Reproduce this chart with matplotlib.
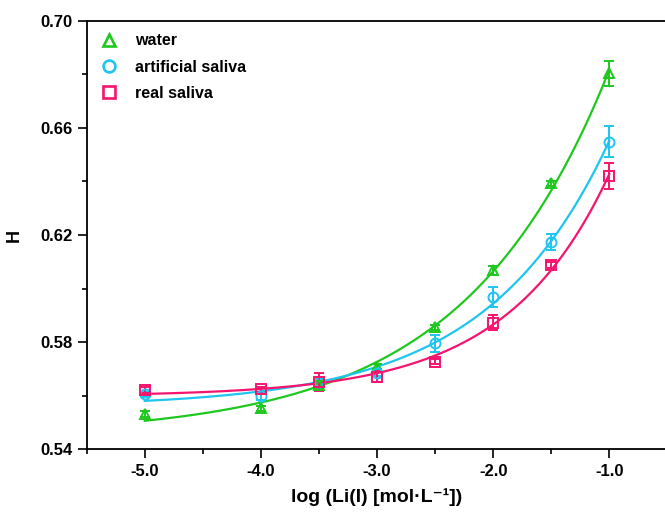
import matplotlib

matplotlib.use("Agg")

import matplotlib.pyplot as plt
import numpy as np
from matplotlib.lines import Line2D
from matplotlib.ticker import MultipleLocator

plt.rcParams["font.family"] = ["Liberation Sans", "DejaVu Sans"]
plt.rcParams["font.weight"] = "bold"

# log concentration of Li(I)
log_c = np.array([-5.0, -4.0, -3.5, -3.0, -2.5, -2.0, -1.5, -1.0])

water = np.array([0.5532, 0.5553, 0.5640, 0.5708, 0.5855, 0.6069, 0.6393, 0.6803])
water_err = np.array([0.001, 0.001, 0.0015, 0.001, 0.001, 0.0017, 0.001, 0.0047])

art_saliva = np.array([0.5605, 0.5599, 0.5652, 0.5684, 0.5796, 0.5970, 0.6175, 0.6548])
art_err = np.array([0.001, 0.0015, 0.001, 0.001, 0.0031, 0.0037, 0.003, 0.0058])

real_saliva = np.array([0.5621, 0.5624, 0.5652, 0.5671, 0.5727, 0.5873, 0.6088, 0.6420])
real_err = np.array([0.001, 0.001, 0.0034, 0.002, 0.001, 0.0029, 0.001, 0.005])

labels = ["water", "artificial saliva", "real saliva"]
colors = ["#1ec81e", "#1ec5f0", "#f5146e"]
markers = ["^", "o", "s"]

x_ticks = [-5.0, -4.0, -3.0, -2.0, -1.0]
y_ticks = [0.54, 0.58, 0.62, 0.66, 0.70]


def exp_fit(x, y):
    # y = y0 + A * exp(k * x), k scanned, y0 and A by least squares
    best = None
    for k in np.linspace(0.2, 4.0, 761):
        basis = np.column_stack([np.ones_like(x), np.exp(k * x)])
        coef = np.linalg.lstsq(basis, y, rcond=None)[0]
        err = np.sum((basis @ coef - y) ** 2)
        if best is None or err < best[0]:
            best = (err, k, coef)
    return best[1], best[2]


fig = plt.figure(figsize=(6.65, 5.14), dpi=100)
ax = fig.add_axes([0.1304, 0.1259, 0.8732, 0.8338])

xs = np.linspace(-5.0, -1.0, 300)
series = [(water, water_err), (art_saliva, art_err), (real_saliva, real_err)]
for (vals, err), col, mk in zip(series, colors, markers):
    k, coef = exp_fit(log_c, vals)
    ax.plot(xs, coef[0] + coef[1] * np.exp(k * xs), color=col, lw=1.6, zorder=2)
    ax.errorbar(log_c, vals, yerr=err, fmt=mk, color=col, mfc="none",
                mec=col, mew=1.4, ms=7.2, elinewidth=1.4, capsize=3.5,
                capthick=1.4, zorder=3)

ax.set_xlim(-5.5, -0.5)
ax.set_ylim(0.54, 0.70)
ax.set_xticks(x_ticks)
ax.set_yticks(y_ticks)
ax.set_xticklabels([f"{v:.1f}" for v in x_ticks])
ax.set_yticklabels([f"{v:.2f}" for v in y_ticks])
ax.xaxis.set_minor_locator(MultipleLocator(0.5))
ax.yaxis.set_minor_locator(MultipleLocator(0.02))

ax.tick_params(which="major", direction="out", length=6.5, width=1.2,
               labelsize=12, pad=4)
ax.tick_params(which="minor", direction="out", length=3.5, width=1.2)
for sp in ax.spines.values():
    sp.set_linewidth(1.3)

ax.set_xlabel("log (Li(I) [mol·L⁻¹])", fontsize=14, fontweight="bold",
              va="center")
ax.xaxis.set_label_coords(0.5, -0.111)
ax.set_ylabel("H", fontsize=13, fontweight="bold", va="center")
ax.yaxis.set_label_coords(-0.125, 0.5)

handles = [Line2D([], [], ls="none", marker=mk, color=col, mfc="none",
                  mec=col, mew=1.9, ms=8.5) for mk, col in zip(markers, colors)]
ax.legend(handles, labels, loc="upper left", frameon=False, fontsize=11.5,
          handlelength=1.2, handletextpad=1.0, labelspacing=0.7,
          borderaxespad=0.4, bbox_to_anchor=(0.0, 1.0))

fig.savefig("out.png", dpi=100)
